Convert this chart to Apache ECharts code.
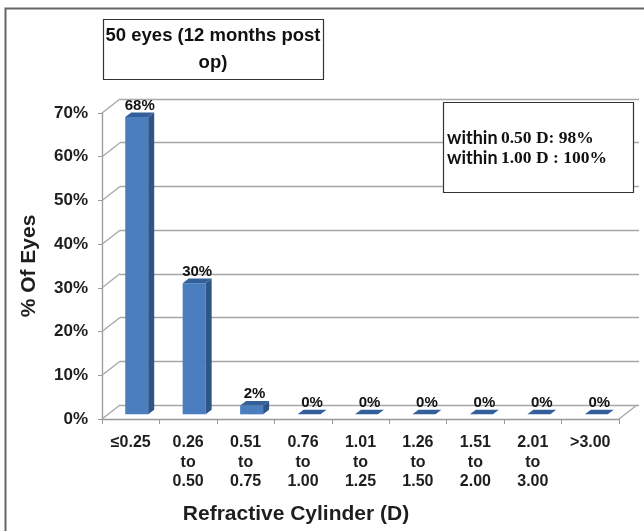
<!DOCTYPE html>
<html>
<head>
<meta charset="utf-8">
<script src="https://cdn.jsdelivr.net/npm/echarts@6/dist/echarts.min.js"></script>
<style>
  html, body { margin: 0; padding: 0; background: #fff; }
  #main { width: 644px; height: 531px; }
</style>
</head>
<body>
<div id="main"></div>
<script>
// data
var categories = ['≤0.25', '0.26\nto\n0.50', '0.51\nto\n0.75', '0.76\nto\n1.00', '1.01\nto\n1.25',
  '1.26\nto\n1.50', '1.51\nto\n2.00', '2.01\nto\n3.00', '>3.00'];
var percentEyes = [68, 30, 2, 0, 0, 0, 0, 0, 0];
var yTicks = [0, 10, 20, 30, 40, 50, 60, 70];
var titleLines = ['50 eyes (12 months post', 'op)'];
var notes = [['within', '0.50 D: 98%'], ['within', '1.00 D : 100%']];

var FONT = '"Liberation Sans", Arial, sans-serif';
var DX = 18, DY = -14; // depth of the fake 3d box

var chart = echarts.init(document.getElementById('main'));

function renderBar(params, api) {
  var base = api.coord([api.value(0), 0]);
  var top = api.coord([api.value(0), api.value(1)]);
  var band = api.size([1, 0])[0];
  var w = band * 0.4;
  var ox = DX / 3, oy = DY / 3;
  var x0 = base[0] - w / 2 + ox, x1 = x0 + w;
  var yb = base[1] + oy, yt = top[1] + oy;
  var kids = [];
  if (yb - yt > 0.5) {
    kids.push({ type: 'rect', shape: { x: x0, y: yt, width: w, height: yb - yt }, style: { fill: '#4a7ebf' } });
    kids.push({ type: 'polygon', shape: { points: [[x1, yb], [x1 + ox, yb + oy], [x1 + ox, yt + oy], [x1, yt]] }, style: { fill: '#2e5488' } });
  }
  kids.push({ type: 'polygon', shape: { points: [[x0, yt], [x1, yt], [x1 + ox, yt + oy], [x0 + ox, yt + oy]] }, style: { fill: '#33609a' } });
  kids.push({
    type: 'text',
    style: {
      text: api.value(1) + '%', x: x0 + w / 2 + ox / 2, y: yt + oy / 2 - 9,
      align: 'center', verticalAlign: 'middle',
      fontFamily: FONT, fontWeight: 'bold', fontSize: 15, fill: '#111'
    }
  });
  return { type: 'group', children: kids };
}

// side wall + right edge of floor
function renderWall(params, api) {
  var cs = params.coordSys;
  var y = api.coord([0, api.value(1)])[1];
  var st = { stroke: '#a6a6a6', lineWidth: 1.3 };
  var kids = [{ type: 'line', shape: { x1: cs.x, y1: y, x2: cs.x + DX, y2: y + DY }, style: st }];
  if (api.value(1) === 0) {
    kids.push({ type: 'line', shape: { x1: cs.x + cs.width, y1: y, x2: cs.x + cs.width + DX, y2: y + DY }, style: st });
  }
  return { type: 'group', children: kids };
}

chart.setOption({
  animation: false,
  grid: [
    { left: 102, right: 25, top: 113, bottom: 112 },
    { left: 120, right: 5, top: 99, bottom: 126 }
  ],
  xAxis: [{
    type: 'category',
    data: categories,
    axisLine: { lineStyle: { color: '#999', width: 1.3 } },
    axisTick: { show: true, length: 5, lineStyle: { color: '#999' } },
    axisLabel: {
      interval: 0, margin: 14, fontFamily: FONT, fontWeight: 'bold', fontSize: 16,
      lineHeight: 19.5, color: '#1e1e1e'
    }
  }, {
    type: 'value', gridIndex: 1, show: false, min: 0, max: 1
  }],
  yAxis: [{
    type: 'value', min: 0, max: 70, interval: 10,
    name: '% Of Eyes', nameLocation: 'middle', nameGap: 62,
    nameTextStyle: { fontFamily: FONT, fontWeight: 'bold', fontSize: 21, color: '#1e1e1e' },
    axisLine: { show: true, lineStyle: { color: '#999', width: 1.3 } },
    axisTick: { show: true, length: 4, lineStyle: { color: '#999' } },
    axisLabel: { formatter: '{value}%', margin: 14, fontFamily: FONT, fontWeight: 'bold', fontSize: 17, color: '#1e1e1e' },
    splitLine: { show: false }
  }, {
    type: 'value', gridIndex: 1, min: 0, max: 70, interval: 10,
    axisLine: { show: false }, axisTick: { show: false }, axisLabel: { show: false },
    splitLine: { show: true, lineStyle: { color: '#a6a6a6', width: 1.3 } }
  }],
  series: [{
    type: 'custom',
    renderItem: renderWall,
    clip: false,
    silent: true,
    data: yTicks.map(function (v) { return [0, v]; })
  }, {
    type: 'custom',
    renderItem: renderBar,
    clip: false,
    data: percentEyes.map(function (v, i) { return [i, v]; }),
    z: 5
  }],
  graphic: [
    { type: 'rect', z: 0, silent: true, shape: { x: 5.5, y: 8.5, width: 700, height: 600 },
      style: { fill: 'none', stroke: '#666', lineWidth: 2 } },
    { type: 'rect', z: 100, shape: { x: 103.5, y: 19.5, width: 220, height: 60 },
      style: { fill: '#fff', stroke: '#333', lineWidth: 1.2 } },
    { type: 'text', z: 101, x: 213, y: 49,
      style: { text: titleLines.join('\n'), align: 'center', verticalAlign: 'middle', lineHeight: 27,
        fontFamily: FONT, fontWeight: 'bold', fontSize: 18.5, fill: '#111' } },
    { type: 'rect', z: 100, shape: { x: 443.5, y: 102.5, width: 190, height: 90 },
      style: { fill: '#fff', stroke: '#333', lineWidth: 1.2 } },
    { type: 'text', z: 101, x: 447, y: 148,
      style: {
        text: notes.map(function (n) { return '{a|' + n[0] + '} {b|' + n[1] + '}'; }).join('\n'),
        verticalAlign: 'middle',
        rich: {
          a: { fontFamily: 'Lato, "Open Sans", sans-serif', fontWeight: 'bold', fontSize: 18, fill: '#111', lineHeight: 20 },
          b: { fontFamily: '"Liberation Serif", "DejaVu Serif", serif', fontWeight: 'bold', fontSize: 17.5, fill: '#111', lineHeight: 20 }
        }
      } },
    { type: 'text', z: 101, x: 296, y: 514,
      style: { text: 'Refractive Cylinder (D)', align: 'center', verticalAlign: 'middle',
        fontFamily: FONT, fontWeight: 'bold', fontSize: 21, fill: '#1e1e1e' } }
  ]
});
</script>
</body>
</html>
